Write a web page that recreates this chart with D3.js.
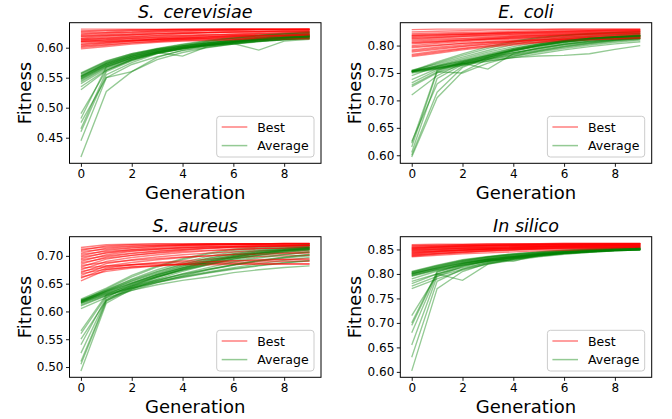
<!DOCTYPE html>
<html><head><meta charset="utf-8">
<script src="https://cdn.jsdelivr.net/npm/d3@7"></script>
<style>
body{margin:0;background:#fff}
svg{display:block}
text{font-family:"DejaVu Sans","Liberation Sans",sans-serif;fill:#000}
</style>
</head><body>
<svg id="chart" width="672" height="419"></svg>
<script>
// ---------------- DATA ----------------
const generations = [0,1,2,3,4,5,6,7,8,9];
const xTickValues = [0,2,4,6,8];
const titles = ["S.\u2002cerevisiae", "E.\u2002coli", "S.\u2002aureus", "In silico"];
const legendLabels = ["Best", "Average"];

const cerevisiaeTicks = [0.45,0.50,0.55,0.60];
const coliTicks = [0.60,0.65,0.70,0.75,0.80];
const aureusTicks = [0.50,0.55,0.60,0.65,0.70];
const silicoTicks = [0.60,0.65,0.70,0.75,0.80,0.85];

const cerevisiaeBest = [
[.631,.631,.631,.631,.631,.631,.631,.631,.631,.631],
[.625,.626,.628,.629,.630,.630,.631,.631,.631,.631],
[.620,.622,.624,.626,.627,.628,.629,.630,.630,.630],
[.615,.617,.619,.621,.623,.625,.626,.627,.628,.628],
[.610,.613,.615,.617,.619,.621,.622,.623,.624,.625],
[.605,.608,.611,.614,.616,.618,.620,.621,.622,.623],
[.600,.604,.608,.611,.614,.616,.618,.619,.620,.621],
[.612,.614,.616,.617,.618,.619,.620,.621,.621,.622],
[.618,.620,.622,.623,.624,.625,.626,.626,.627,.627],
[.608,.610,.612,.613,.614,.615,.616,.617,.617,.618],
[.603,.607,.610,.612,.613,.614,.615,.616,.616,.617],
[.622,.624,.626,.627,.628,.629,.629,.630,.630,.630],
[.614,.615,.617,.619,.620,.621,.622,.623,.623,.624],
[.598,.602,.606,.609,.611,.612,.613,.613,.614,.614],
[.627,.628,.629,.630,.630,.631,.631,.631,.631,.631],
[.610,.611,.612,.614,.615,.616,.617,.618,.619,.619],
[.616,.619,.621,.623,.624,.625,.626,.627,.627,.628],
[.606,.609,.612,.614,.616,.617,.619,.620,.621,.622],
[.623,.625,.626,.628,.629,.629,.630,.630,.630,.631],
[.613,.616,.618,.620,.621,.622,.623,.624,.625,.626],
[.619,.621,.622,.624,.625,.626,.627,.627,.628,.628],
[.602,.605,.608,.610,.612,.613,.614,.615,.615,.616],
[.628,.629,.630,.630,.631,.631,.631,.631,.631,.631],
[.611,.612,.614,.615,.617,.618,.619,.620,.620,.621]
];
const cerevisiaeAvg = [
[.552,.573,.586,.595,.601,.606,.610,.614,.617,.620],
[.548,.570,.584,.594,.601,.607,.612,.616,.619,.622],
[.556,.576,.589,.597,.603,.608,.612,.615,.618,.621],
[.545,.568,.582,.592,.599,.604,.608,.611,.614,.617],
[.558,.578,.590,.598,.604,.609,.613,.617,.620,.623],
[.540,.565,.580,.591,.598,.603,.607,.610,.613,.615],
[.550,.571,.585,.595,.602,.608,.613,.617,.620,.624],
[.553,.574,.587,.596,.602,.607,.611,.614,.617,.619],
[.530,.562,.579,.590,.598,.604,.609,.613,.616,.618],
[.554,.575,.588,.597,.603,.608,.612,.616,.619,.622],
[.547,.569,.583,.593,.600,.605,.609,.612,.614,.616],
[.551,.572,.586,.596,.603,.610,.615,.619,.622,.626],
[.535,.563,.580,.592,.586,.602,.607,.611,.614,.616],
[.549,.571,.585,.594,.600,.604,.607,.596,.611,.614],
[.557,.577,.590,.599,.606,.612,.617,.621,.624,.627],
[.543,.567,.582,.593,.600,.606,.610,.614,.617,.619],
[.552,.574,.588,.598,.605,.611,.616,.620,.623,.625],
[.418,.527,.560,.580,.592,.600,.606,.611,.614,.617],
[.445,.550,.572,.585,.595,.601,.606,.610,.613,.616],
[.460,.555,.575,.590,.598,.604,.609,.613,.616,.618],
[.465,.560,.578,.591,.599,.605,.610,.614,.617,.620],
[.475,.550,.560,.584,.596,.603,.608,.612,.615,.618],
[.482,.568,.583,.593,.600,.606,.610,.614,.617,.619],
[.490,.562,.580,.592,.599,.605,.609,.613,.616,.619]
];

const coliBest = [
[.829,.830,.830,.830,.830,.830,.830,.830,.830,.830],
[.822,.823,.824,.825,.826,.827,.828,.828,.829,.829],
[.818,.819,.820,.821,.822,.823,.824,.825,.825,.826],
[.815,.816,.818,.819,.820,.821,.822,.823,.824,.825],
[.812,.814,.816,.817,.818,.819,.820,.821,.822,.822],
[.808,.810,.812,.814,.816,.818,.819,.820,.821,.822],
[.805,.807,.810,.812,.814,.816,.818,.819,.820,.821],
[.800,.804,.807,.810,.812,.814,.816,.817,.818,.819],
[.796,.800,.804,.807,.810,.812,.814,.815,.816,.817],
[.792,.797,.801,.805,.808,.811,.813,.815,.816,.817],
[.788,.793,.798,.802,.806,.809,.811,.813,.815,.816],
[.784,.790,.795,.800,.804,.807,.810,.812,.813,.814],
[.780,.786,.792,.797,.801,.805,.808,.810,.812,.813],
[.820,.821,.822,.823,.824,.825,.826,.827,.827,.828],
[.810,.812,.813,.815,.817,.819,.821,.822,.823,.824],
[.803,.806,.809,.812,.815,.817,.819,.821,.822,.823],
[.798,.801,.804,.806,.808,.810,.811,.812,.813,.814],
[.816,.818,.820,.822,.824,.825,.826,.827,.828,.828],
[.790,.795,.799,.803,.807,.810,.812,.814,.815,.816],
[.825,.826,.827,.828,.829,.829,.830,.830,.830,.830],
[.813,.815,.817,.819,.821,.822,.823,.824,.825,.826],
[.806,.808,.810,.812,.813,.815,.816,.817,.818,.819],
[.782,.788,.794,.799,.803,.806,.809,.811,.812,.813],
[.818,.820,.821,.822,.823,.824,.825,.826,.827,.827]
];
const coliAvg = [
[.753,.768,.782,.795,.806,.813,.818,.821,.823,.825],
[.752,.764,.776,.788,.798,.806,.812,.816,.819,.821],
[.754,.762,.772,.782,.791,.799,.806,.811,.815,.818],
[.753,.760,.768,.776,.784,.792,.799,.805,.810,.814],
[.751,.758,.766,.774,.781,.788,.795,.801,.806,.810],
[.755,.766,.779,.791,.802,.810,.815,.818,.820,.822],
[.752,.761,.770,.779,.787,.795,.802,.808,.812,.815],
[.753,.759,.766,.772,.778,.781,.782,.785,.793,.800],
[.754,.770,.785,.798,.808,.815,.819,.822,.824,.825],
[.750,.757,.764,.771,.778,.785,.792,.798,.803,.807],
[.753,.763,.774,.785,.795,.803,.809,.813,.816,.818],
[.752,.759,.767,.775,.783,.790,.797,.803,.808,.812],
[.745,.762,.772,.782,.792,.800,.807,.812,.815,.818],
[.738,.758,.770,.780,.790,.798,.805,.810,.814,.816],
[.732,.755,.768,.778,.787,.795,.802,.807,.811,.814],
[.728,.752,.750,.768,.780,.790,.798,.804,.809,.812],
[.725,.750,.765,.776,.786,.794,.801,.806,.810,.813],
[.710,.745,.768,.757,.785,.796,.803,.808,.811,.813],
[.597,.705,.752,.775,.790,.800,.807,.812,.815,.817],
[.600,.715,.760,.778,.792,.801,.808,.813,.816,.818],
[.605,.740,.765,.780,.793,.802,.809,.813,.816,.819],
[.615,.752,.768,.781,.793,.801,.807,.811,.814,.817],
[.622,.755,.770,.783,.795,.803,.809,.813,.816,.819],
[.625,.730,.762,.778,.791,.800,.807,.812,.815,.818]
];

const aureusBest = [
[.715,.720,.721,.722,.722,.722,.722,.722,.722,.722],
[.710,.718,.720,.721,.721,.722,.722,.722,.722,.722],
[.705,.714,.717,.719,.720,.721,.721,.722,.722,.722],
[.700,.710,.714,.717,.719,.720,.721,.721,.722,.722],
[.695,.706,.711,.715,.717,.719,.720,.721,.721,.721],
[.690,.702,.708,.712,.715,.717,.718,.719,.720,.720],
[.685,.698,.704,.708,.711,.714,.716,.717,.718,.719],
[.680,.694,.701,.706,.710,.713,.715,.716,.717,.718],
[.675,.690,.697,.702,.706,.709,.711,.713,.714,.715],
[.670,.686,.693,.698,.702,.705,.707,.709,.710,.711],
[.665,.682,.688,.693,.697,.700,.703,.705,.706,.707],
[.660,.678,.684,.688,.691,.694,.697,.699,.700,.701],
[.655,.675,.680,.683,.685,.687,.688,.689,.690,.690],
[.698,.705,.709,.712,.714,.716,.717,.718,.719,.719],
[.688,.696,.701,.705,.708,.710,.712,.713,.714,.715],
[.678,.682,.684,.685,.685,.686,.686,.686,.686,.686],
[.708,.712,.715,.717,.719,.720,.721,.721,.722,.722],
[.693,.700,.705,.709,.712,.714,.716,.717,.718,.718],
[.672,.680,.684,.687,.689,.690,.691,.692,.693,.693],
[.703,.708,.711,.713,.715,.716,.717,.718,.718,.719],
[.683,.688,.692,.695,.698,.700,.702,.703,.704,.705],
[.668,.676,.680,.682,.684,.684,.685,.685,.685,.685],
[.712,.716,.718,.719,.720,.721,.721,.721,.723,.723],
[.662,.672,.678,.682,.686,.689,.691,.693,.694,.695]
];
const aureusAvg = [
[.618,.640,.662,.680,.693,.703,.710,.714,.717,.719],
[.616,.636,.655,.671,.684,.695,.703,.709,.713,.716],
[.620,.638,.658,.675,.688,.699,.707,.712,.715,.718],
[.615,.632,.648,.662,.674,.684,.692,.698,.703,.707],
[.617,.634,.651,.666,.679,.690,.699,.705,.710,.713],
[.622,.642,.665,.682,.695,.705,.712,.716,.718,.720],
[.614,.630,.644,.656,.666,.675,.683,.690,.696,.700],
[.619,.635,.650,.663,.675,.685,.694,.701,.706,.710],
[.610,.628,.641,.652,.661,.669,.676,.682,.687,.691],
[.618,.633,.646,.657,.667,.676,.684,.691,.697,.702],
[.616,.631,.643,.654,.663,.671,.679,.686,.692,.697],
[.621,.639,.657,.672,.685,.696,.704,.710,.714,.717],
[.605,.625,.638,.648,.656,.662,.670,.675,.679,.682],
[.617,.637,.654,.669,.682,.693,.701,.707,.711,.714],
[.612,.629,.642,.653,.662,.670,.677,.683,.688,.692],
[.620,.636,.652,.666,.678,.688,.697,.704,.709,.712],
[.493,.615,.640,.658,.672,.684,.694,.701,.707,.711],
[.505,.618,.643,.661,.676,.688,.697,.704,.709,.713],
[.510,.620,.645,.663,.677,.689,.698,.705,.710,.714],
[.525,.622,.640,.655,.668,.679,.689,.696,.702,.707],
[.540,.625,.648,.665,.679,.690,.699,.706,.711,.715],
[.550,.620,.638,.652,.664,.675,.684,.692,.698,.703],
[.560,.627,.646,.662,.675,.686,.695,.702,.708,.712],
[.565,.630,.650,.667,.681,.692,.701,.708,.712,.715]
];

const silicoBest = [
[.860,.861,.861,.862,.862,.862,.863,.863,.863,.863],
[.857,.859,.860,.861,.861,.862,.862,.862,.862,.862],
[.855,.857,.858,.859,.860,.861,.861,.862,.862,.862],
[.852,.855,.857,.858,.859,.860,.861,.861,.862,.862],
[.850,.853,.855,.857,.858,.859,.860,.861,.861,.861],
[.848,.851,.853,.855,.857,.858,.859,.860,.860,.861],
[.846,.849,.852,.854,.856,.857,.858,.859,.860,.860],
[.844,.847,.850,.852,.854,.856,.857,.858,.859,.859],
[.842,.846,.849,.851,.853,.855,.856,.857,.858,.858],
[.840,.844,.847,.850,.852,.854,.855,.856,.857,.857],
[.838,.842,.845,.848,.850,.852,.853,.854,.855,.856],
[.836,.840,.843,.846,.848,.850,.851,.852,.853,.854],
[.835,.838,.841,.843,.845,.847,.848,.849,.850,.851],
[.853,.855,.856,.857,.858,.859,.859,.860,.860,.860],
[.849,.851,.853,.854,.855,.856,.857,.857,.858,.858],
[.845,.847,.849,.851,.852,.853,.854,.855,.856,.856],
[.858,.859,.860,.860,.861,.861,.861,.861,.862,.862],
[.843,.846,.848,.850,.851,.852,.853,.854,.854,.855],
[.851,.854,.856,.858,.859,.860,.861,.861,.861,.862],
[.847,.850,.852,.853,.855,.856,.857,.858,.858,.859],
[.839,.842,.845,.847,.849,.851,.852,.853,.854,.854],
[.854,.856,.858,.859,.860,.860,.861,.861,.861,.862],
[.841,.845,.848,.851,.853,.855,.856,.857,.858,.859],
[.837,.841,.844,.847,.850,.852,.854,.855,.856,.857]
];
const silicoAvg = [
[.800,.814,.825,.833,.839,.843,.846,.849,.851,.853],
[.798,.811,.822,.830,.836,.841,.844,.847,.849,.851],
[.803,.816,.827,.835,.840,.844,.847,.850,.852,.854],
[.801,.812,.823,.831,.837,.842,.845,.848,.850,.852],
[.796,.810,.821,.829,.835,.840,.843,.846,.848,.850],
[.805,.818,.829,.836,.841,.845,.848,.851,.853,.855],
[.799,.813,.824,.832,.838,.842,.846,.849,.851,.853],
[.802,.815,.826,.834,.839,.843,.847,.850,.852,.853],
[.797,.809,.819,.827,.833,.838,.842,.845,.847,.849],
[.804,.817,.828,.835,.841,.845,.849,.852,.854,.856],
[.800,.812,.822,.830,.836,.841,.845,.848,.850,.851],
[.795,.808,.818,.826,.833,.839,.843,.846,.848,.850],
[.790,.806,.817,.826,.833,.839,.843,.846,.849,.851],
[.785,.800,.813,.823,.831,.837,.842,.845,.848,.850],
[.780,.800,.787,.820,.830,.837,.842,.845,.848,.850],
[.775,.795,.810,.821,.830,.836,.841,.844,.847,.849],
[.770,.790,.808,.820,.828,.835,.840,.844,.847,.849],
[.602,.770,.805,.822,.831,.837,.842,.845,.848,.850],
[.630,.785,.810,.824,.832,.838,.842,.846,.848,.850],
[.655,.795,.815,.826,.834,.839,.843,.846,.849,.851],
[.680,.800,.818,.828,.835,.840,.844,.847,.849,.851],
[.695,.803,.820,.829,.836,.841,.845,.848,.850,.852],
[.700,.805,.821,.830,.826,.839,.844,.847,.849,.851],
[.715,.798,.816,.827,.834,.840,.844,.847,.850,.852]
];

// ---------------- LAYOUT ----------------
const panels = [
  {title: titles[0], best: cerevisiaeBest, avg: cerevisiaeAvg, ticks: cerevisiaeTicks, x0: 69.5,  x1: 321,   y0: 22.7,  y1: 163.3, labX: 30.5},
  {title: titles[1], best: coliBest,       avg: coliAvg,       ticks: coliTicks,       x0: 400.3, x1: 651.7, y0: 22.7,  y1: 163.3, labX: 360.5},
  {title: titles[2], best: aureusBest,     avg: aureusAvg,     ticks: aureusTicks,     x0: 69.5,  x1: 321,   y0: 236.7, y1: 377.3, labX: 30.5},
  {title: titles[3], best: silicoBest,     avg: silicoAvg,     ticks: silicoTicks,     x0: 400.3, x1: 651.7, y0: 236.7, y1: 377.3, labX: 360.5}
];

const RED = "#ff0000", GREEN = "#008000";
const RED_OP = 0.5, GREEN_OP = 0.42;
const LW = 1.35;
const svg = d3.select("#chart");

panels.forEach(p => {
  const g = svg.append("g");
  const x = d3.scaleLinear().domain([-0.45, 9.45]).range([p.x0, p.x1]);
  const all = p.best.flat().concat(p.avg.flat());
  const [mn, mx] = d3.extent(all);
  const pad = (mx - mn) * 0.05;
  const y = d3.scaleLinear().domain([mn - pad, mx + pad]).range([p.y1, p.y0]);
  const line = d3.line().x((d, i) => x(generations[i])).y(d => y(d));

  const lines = g.append("g");
  p.best.forEach((b, i) => {
    lines.append("path").attr("d", line(b)).attr("fill", "none")
      .attr("stroke", RED).attr("stroke-opacity", RED_OP).attr("stroke-width", LW);
    lines.append("path").attr("d", line(p.avg[i])).attr("fill", "none")
      .attr("stroke", GREEN).attr("stroke-opacity", GREEN_OP).attr("stroke-width", LW);
  });

  // axes
  const ya = g.append("g").attr("transform", `translate(${p.x0},0)`)
    .call(d3.axisLeft(y).tickValues(p.ticks).tickFormat(d3.format(".2f")).tickSize(3.5).tickPadding(2.5));
  const xa = g.append("g").attr("transform", `translate(0,${p.y1})`)
    .call(d3.axisBottom(x).tickValues(xTickValues).tickFormat(d3.format("d")).tickSize(3.5).tickPadding(2.5));
  [ya, xa].forEach(a => {
    a.select(".domain").remove();
    a.selectAll("text").attr("font-size", 12).attr("font-family", "DejaVu Sans").attr("fill", "#000");
    a.selectAll("line").attr("stroke", "#000").attr("stroke-width", 0.9);
  });

  g.append("rect").attr("x", p.x0).attr("y", p.y0)
    .attr("width", p.x1 - p.x0).attr("height", p.y1 - p.y0)
    .attr("fill", "none").attr("stroke", "#000").attr("stroke-width", 1);

  // title
  g.append("text").attr("x", (p.x0 + p.x1) / 2).attr("y", p.y0 - 4.5)
    .attr("text-anchor", "middle").attr("font-size", 17.5).attr("font-style", "italic")
    .text(p.title);
  // axis labels
  g.append("text").attr("x", (p.x0 + p.x1) / 2).attr("y", p.y1 + 36)
    .attr("text-anchor", "middle").attr("font-size", 18).text("Generation");
  g.append("text").attr("transform", `translate(${p.labX},${(p.y0 + p.y1) / 2}) rotate(-90)`)
    .attr("text-anchor", "middle").attr("font-size", 18).text("Fitness");

  // legend
  const bw = 97.3, bh = 40.7;
  const bx = p.x1 - 7 - bw, by = p.y1 - 6.3 - bh;
  const lg = g.append("g");
  lg.append("rect").attr("x", bx).attr("y", by).attr("width", bw).attr("height", bh)
    .attr("rx", 3).attr("fill", "#fff").attr("fill-opacity", 0.8)
    .attr("stroke", "#cccccc").attr("stroke-width", 1);
  [[RED, RED_OP], [GREEN, GREEN_OP]].forEach((c, i) => {
    const ly = by + 10.7 + i * 18.6;
    lg.append("line").attr("x1", bx + 5).attr("x2", bx + 30.6).attr("y1", ly).attr("y2", ly)
      .attr("stroke", c[0]).attr("stroke-opacity", c[1]).attr("stroke-width", 1.5);
    lg.append("text").attr("x", bx + 40.6).attr("y", ly).attr("dy", "0.36em")
      .attr("font-size", 12.5).text(legendLabels[i]);
  });
});
</script>
</body></html>
